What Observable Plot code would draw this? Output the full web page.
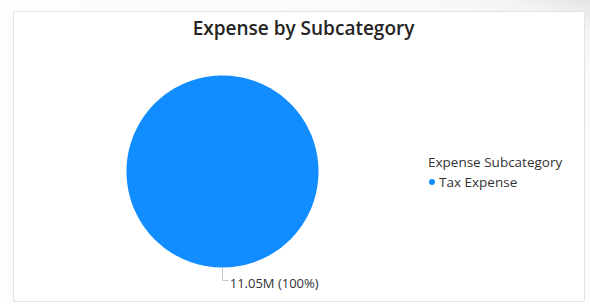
<!DOCTYPE html>
<html>
<head>
<meta charset="utf-8">
<script src="https://cdn.jsdelivr.net/npm/d3@7"></script>
<script src="https://cdn.jsdelivr.net/npm/@observablehq/plot@0.6"></script>
<style>
  html, body { margin: 0; padding: 0; }
  body {
    width: 590px; height: 304px; overflow: hidden;
    background: linear-gradient(200deg, #e4e4e4 0%, #f4f4f4 6%, #fafafa 14%, #fdfdfd 40%);
    font-family: "Open Sans", "Noto Sans", sans-serif;
  }
  #wrap { position: relative; width: 590px; height: 304px; }
  #card {
    position: absolute; left: 13px; top: 11px; width: 570px; height: 289px;
    background: #fff; border: 1px solid #e3e3e3; border-radius: 2px;
  }
  #title {
    position: absolute; left: 0; width: 607px; top: 15px; text-align: center;
    font-size: 19px; font-weight: 600; color: #252423; letter-spacing: 0px;
  }
  #legend { position: absolute; left: 428px; top: 153px; color: #333; font-size: 13.5px; }
  #legend .lt { font-weight: 400; margin-bottom: 0px; line-height: 19px; }
  #legend .item { display: flex; align-items: center; height: 20px; }
  #legend .sw { width: 6px; height: 6px; border-radius: 50%; margin: 0 4px 0 1px; }
  #plot { position: absolute; left: 0; top: 0; }
</style>
</head>
<body>
<div id="wrap">
  <div id="card"></div>
  <div id="plot"></div>
  <div id="title"></div>
  <div id="legend"></div>
</div>
<script>
// ---- data ----
const chartTitle = "Expense by Subcategory";
const legendTitle = "Expense Subcategory";
const categories = ["Tax Expense"];
const values = [11050000];
const valueLabels = ["11.05M"];
const colors = ["#118DFF"];

// ---- pie layout ----
const table = categories.map((c, i) => ({category: c, value: values[i], label: valueLabels[i]}));
const total = d3.sum(values);
const arcs = d3.pie().sort(null).value(d => d.value)(table);

const poly = [];
const labelPts = [];
const leaders = [];
arcs.forEach((a, i) => {
  const full = a.endAngle - a.startAngle >= 2 * Math.PI - 1e-9;
  if (!full) poly.push({category: a.data.category, x: 0, y: 0});
  const n = Math.max(2, Math.ceil((a.endAngle - a.startAngle) / (Math.PI / 180)));
  for (let k = 0; k <= n; k++) {
    const t = a.startAngle + (a.endAngle - a.startAngle) * k / n;
    poly.push({category: a.data.category, x: Math.sin(t), y: Math.cos(t)});
  }
  const mid = (a.startAngle + a.endAngle) / 2;
  const sx = Math.sin(mid), sy = Math.cos(mid);
  const ex = sx * 1.135, ey = sy * 1.135;
  const side = sx >= -1e-9 ? 1 : -1;
  leaders.push({id: i, x: sx, y: sy}, {id: i, x: ex, y: ey}, {id: i, x: ex + side * 0.06, y: ey});
  labelPts.push({x: ex + side * 0.075, y: ey - 0.035, anchor: side > 0 ? "start" : "end",
    text: `${a.data.label} (${d3.format(".0%")(a.data.value / total)})`});
});

const chart = Plot.plot({
  width: 590,
  height: 304,
  margin: 0,
  style: {background: "transparent", overflow: "visible"},
  x: {domain: [-1, 1], range: [126, 318], axis: null},
  y: {domain: [-1, 1], range: [267, 75], axis: null},
  color: {domain: categories, range: colors},
  marks: [
    Plot.line(poly, {x: "x", y: "y", z: "category", fill: "category", stroke: "none", curve: "linear"}),
    Plot.line(leaders, {x: "x", y: "y", z: "id", stroke: "#c8c8c8", strokeWidth: 1}),
    Plot.text(labelPts.filter(d => d.anchor === "start"), {x: "x", y: "y", text: "text", textAnchor: "start",
      fill: "#333", fontSize: 13, fontFamily: "Open Sans, Noto Sans, sans-serif"}),
    Plot.text(labelPts.filter(d => d.anchor === "end"), {x: "x", y: "y", text: "text", textAnchor: "end",
      fill: "#333", fontSize: 13, fontFamily: "Open Sans, Noto Sans, sans-serif"})
  ]
});
document.getElementById("plot").appendChild(chart);
document.getElementById("title").textContent = chartTitle;

const color = chart.scale("color");
const legend = document.getElementById("legend");
const lt = document.createElement("div");
lt.className = "lt"; lt.textContent = legendTitle;
legend.appendChild(lt);
color.domain.forEach(c => {
  const it = document.createElement("div");
  it.className = "item";
  const sw = document.createElement("span");
  sw.className = "sw"; sw.style.background = color.apply(c);
  const tx = document.createElement("span");
  tx.textContent = c;
  it.appendChild(sw); it.appendChild(tx);
  legend.appendChild(it);
});
</script>
</body>
</html>
